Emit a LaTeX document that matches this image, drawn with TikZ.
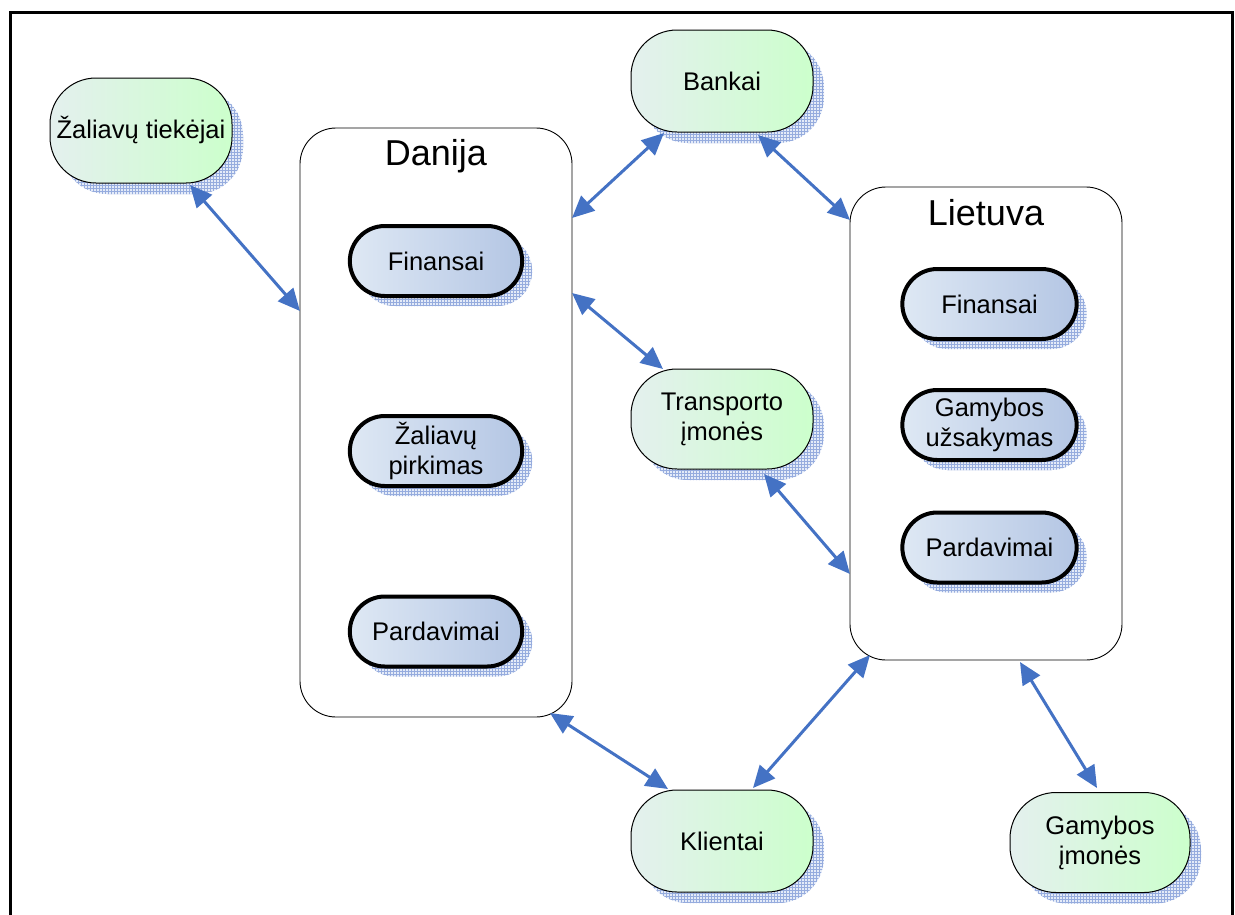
\documentclass[tikz,border=0pt]{standalone}
\usepackage{fontspec}
\setmainfont{Liberation Sans}
\usetikzlibrary{shapes.misc,shadows,patterns,arrows.meta}

\definecolor{arrowblue}{RGB}{68,114,196}
\definecolor{greenA}{RGB}{228,240,238}
\definecolor{greenB}{RGB}{204,255,204}
\definecolor{blueA}{RGB}{222,232,244}
\definecolor{blueB}{RGB}{180,198,228}
\definecolor{shadefill}{RGB}{228,235,248}
\definecolor{shadegrid}{RGB}{150,172,222}

\tikzset{
  hatchshadow/.style={
    general shadow={shadow xshift=#1, shadow yshift=-#1, fill=shadefill},
    general shadow={shadow xshift=#1, shadow yshift=-#1, pattern=grid, pattern color=shadegrid}},
  extnode/.style={draw=black, line width=1pt, rounded corners=46pt,
    minimum width=182pt, minimum height=102pt, align=center,
    font=\fontsize{25.5}{30}\selectfont,
    left color=greenA, right color=greenB, hatchshadow=11pt},
  unitnode/.style={rounded rectangle, draw=black, line width=4pt,
    minimum width=179pt, minimum height=70pt, align=center,
    font=\fontsize{25.5}{30}\selectfont,
    left color=blueA, right color=blueB, hatchshadow=10pt},
  country/.style={draw=black, line width=0.9pt, rounded corners=36pt, fill=white},
  countrytitle/.style={font=\fontsize{36}{42}\selectfont},
  conn/.style={draw=arrowblue, line width=3pt,
    {Triangle[length=22pt,width=20pt]}-{Triangle[length=22pt,width=20pt]}}
}

\begin{document}
\begin{tikzpicture}[x=1pt,y=-1pt]
  \useasboundingbox (0,0) rectangle (1235,914);

  % outer frame (open at the bottom)
  \draw[line width=3pt] (10,916) -- (10,12) -- (1232,12) -- (1232,916);

  % company in Denmark
  \node[country, minimum width=272pt, minimum height=589pt] (danija) at (436,422.5) {};
  \node[countrytitle] (dktitle) at (436,156) {Danija};
  \node[unitnode] (dkfin) at (436,261) {Finansai};
  \node[unitnode] (dkzp) at (436,451) {Žaliavų\\pirkimas};
  \node[unitnode] (dkpard) at (436,631.5) {Pardavimai};

  % company in Lithuania
  \node[country, minimum width=272pt, minimum height=473pt] (lietuva) at (986,423.5) {};
  \node[countrytitle] (lttitle) at (986,213) {Lietuva};
  \node[unitnode, minimum width=181pt] (ltfin) at (989.5,304) {Finansai};
  \node[unitnode, minimum width=181pt] (ltgam) at (989.5,425) {Gamybos\\užsakymas};
  \node[unitnode, minimum width=181pt] (ltpard) at (989.5,547.5) {Pardavimai};

  % external partners
  \node[extnode, minimum height=105pt] (zt) at (141,130.5) {Žaliavų tiekėjai};
  \node[extnode] (bankai) at (722,81) {Bankai};
  \node[extnode, minimum height=100pt] (transp) at (722,419) {Transporto\\įmonės};
  \node[extnode] (klientai) at (722,841) {Klientai};
  \node[extnode, minimum width=180pt, minimum height=100pt] (gamyb) at (1100,842.5) {Gamybos\\įmonės};

  % connector end points on the borders
  \coordinate (zt-e) at (190,185);
  \coordinate (dk-w) at (300,311);
  \coordinate (dk-ne) at (572,218);
  \coordinate (bk-sw) at (664,133);
  \coordinate (bk-se) at (758,135);
  \coordinate (lt-nw) at (850,220);
  \coordinate (dk-e) at (572,293);
  \coordinate (tr-n) at (663,369);
  \coordinate (tr-se) at (764,474);
  \coordinate (lt-w) at (850,574);
  \coordinate (dk-se) at (550,713);
  \coordinate (kl-nw) at (668,789);
  \coordinate (lt-sw) at (870,655);
  \coordinate (kl-ne) at (753,788);
  \coordinate (lt-s) at (1020,662);
  \coordinate (gm-n) at (1097,788);

  % two-way flows
  \draw[conn] (zt-e) -- (dk-w);
  \draw[conn] (dk-ne) -- (bk-sw);
  \draw[conn] (bk-se) -- (lt-nw);
  \draw[conn] (dk-e) -- (tr-n);
  \draw[conn] (tr-se) -- (lt-w);
  \draw[conn] (dk-se) -- (kl-nw);
  \draw[conn] (lt-sw) -- (kl-ne);
  \draw[conn] (lt-s) -- (gm-n);
\end{tikzpicture}
\end{document}
